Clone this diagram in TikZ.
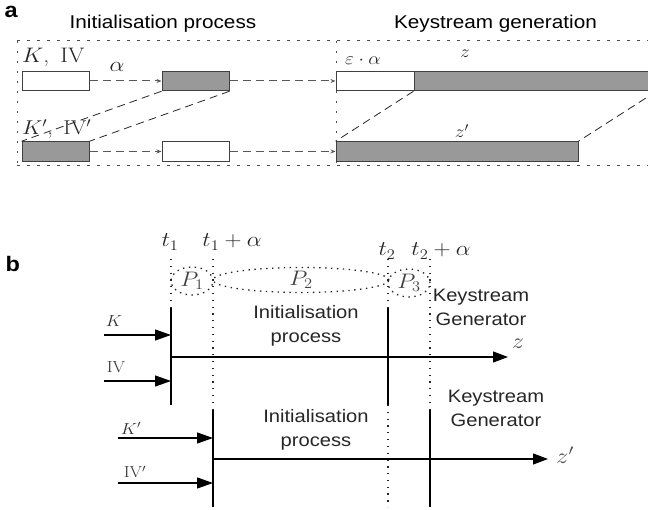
\RequirePackage{fix-cm}
\documentclass[tikz,border=0pt]{standalone}
\usepackage{fontspec}
\usepackage{graphicx}
\setsansfont{Liberation Sans}[FakeStretch=1.12]
\usetikzlibrary{shapes.geometric,arrows.meta}
% horizontally widened math / roman labels
\newcommand{\sx}[1]{\scalebox{1.12}[1]{#1}}
\definecolor{barfill}{gray}{0.6}
\begin{document}
\begin{tikzpicture}[x=1pt,y=-1pt,
  panel/.style={font=\sffamily\bfseries\fontsize{21}{24}\selectfont, inner sep=0, anchor=base west},
  title/.style={font=\sffamily\fontsize{18.5}{22}\selectfont, inner sep=0, anchor=base},
  txt/.style={font=\sffamily\fontsize{18}{24}\selectfont, align=center, inner sep=0, text=black!85},
  mlab/.style={font=\fontsize{17.5}{20}\selectfont, inner sep=0, text=black!85},
  blab/.style={font=\fontsize{21}{24}\selectfont, inner sep=0, text=black!85},
  slab/.style={font=\fontsize{16}{18}\selectfont, inner sep=0, text=black!80},
  frame/.style={black!70, line width=1pt, dash pattern=on 2.5pt off 7.5pt},
  bx/.style={draw=black!75, line width=1pt, minimum height=19.5pt, inner sep=0, minimum width=67pt},
  wbx/.style={bx, fill=white},
  gbx/.style={bx, fill=barfill},
  flow/.style={black!65, line width=1pt, dash pattern=on 8pt off 5pt, -{Stealth[length=5pt,width=4pt]}},
  diag/.style={black!85, line width=0.8pt, dash pattern=on 8pt off 5pt},
  tdot/.style={black!85, line width=1.3pt, dash pattern=on 1.3pt off 5.5pt},
  tline/.style={black, line width=1.2pt},
  inarrow/.style={black, line width=1.2pt, -{Triangle[length=16pt,width=11pt]}},
  outarrow/.style={black, line width=1.2pt, -{Triangle[length=15pt,width=11pt]}},
  phase/.style={ellipse, draw=black!85, line width=1.3pt, dash pattern=on 1.4pt off 4.5pt, inner sep=0, font=\fontsize{21}{24}\selectfont, text=black!75}
]
\useasboundingbox (0,0) rectangle (648,510);

% ---------------- panel a ----------------
\node[panel] (pa) at (4.5,17.5) {a};
\node[title] (ta) at (163,29) {Initialisation process};
\node[title] (tg) at (495.5,29) {Keystream generation};

\begin{scope}
\clip (0,0) rectangle (648,200);
% dotted frame
\draw[frame] (17,41) -- (660,41);
\draw[frame] (17,166) -- (660,166);
\draw[frame] (17,41) -- (17,166);
\draw[frame] (336,41) -- (336,166);

% initialisation registers
\node[wbx] (k1) at (55.5,81) {};
\node[gbx] (k2) at (195.5,81) {};
\node[gbx] (k3) at (55.5,151.5) {};
\node[wbx] (k4) at (195.5,151.5) {};

% keystream bars
\node[wbx, minimum width=78pt] (z1w) at (375,81) {};
\node[gbx, minimum width=242pt] (z1g) at (535,81) {};
\node[gbx, minimum width=242pt] (z2g) at (457,151.5) {};

% flow of states
\draw[flow] (k1.east) -- (k2.west);
\draw[flow] (k2.east) -- (z1w.west);
\draw[flow] (k3.east) -- (k4.west);
\draw[flow] (k4.east) -- (z2g.west);

% shifted correspondences
\draw[diag] (k2.south west) -- (k3.north west);
\draw[diag] (k2.south east) -- (k3.north east);
\draw[diag] (z1g.south west) -- (z2g.north west);
\draw[diag] (z1g.south east) -- (z2g.north east);
\end{scope}

\node[blab, anchor=west] (lk) at (22,57) {\sx{$K$,\, IV}};
\node[blab] (la) at (117,67) {\sx{$\alpha$}};
\node[blab, font=\fontsize{20}{22}\selectfont, anchor=west] (lk2) at (22,129) {\sx{$K'$,\, IV$'$}};
\node[mlab, anchor=west] (le) at (345,61) {\sx{$\varepsilon\cdot\alpha$}};
\node[mlab] (lz) at (465,54) {\sx{$z$}};
\node[mlab] (lz2) at (462,131) {\sx{$z'$}};

% ---------------- panel b ----------------
\node[panel] (pb) at (5.5,272) {b};

\node[blab] (t1) at (170,242) {\sx{$t_1$}};
\node[blab] (t1a) at (232,242) {\sx{$t_1+\alpha$}};
\node[blab] (t2) at (387,251) {\sx{$t_2$}};
\node[blab] (t2a) at (441,251) {\sx{$t_2+\alpha$}};

% time marks
\coordinate (a1) at (171,259);  \coordinate (a2) at (171,308);  \coordinate (a3) at (171,405);
\coordinate (b1) at (213,259);  \coordinate (b2) at (213,410);  \coordinate (b3) at (213,507);
\coordinate (c1) at (388,259);  \coordinate (c2) at (388,308);  \coordinate (c3) at (388,405);  \coordinate (c4) at (388,507);
\coordinate (d1) at (430,259);  \coordinate (d2) at (430,410);  \coordinate (d3) at (430,507);

\draw[tdot] (a1) -- (a2);
\draw[tline] (a2) -- (a3);
\draw[tdot] (b1) -- (b2);
\draw[tline] (b2) -- (b3);
\draw[tdot] (c1) -- (c2);
\draw[tline] (c2) -- (c3);
\draw[tdot] (c3) -- (c4);
\draw[tdot] (d1) -- (d2);
\draw[tline] (d2) -- (d3);

% phases
\node[phase, minimum width=42pt, minimum height=28pt] (p1) at (192,281) {\sx{$P_1$}};
\node[phase, minimum width=176pt, minimum height=25pt] (p2) at (301,280) {\sx{$P_2$}};
\node[phase, minimum width=42pt, minimum height=28pt] (p3) at (409,283) {\sx{$P_3$}};

% first key / IV pair
\node[slab] (k) at (114,321) {\sx{$K$}};
\node[slab] (iv) at (116,367) {\sx{IV}};
\coordinate (kin) at (104,335);   \coordinate (kend) at (171,335);
\coordinate (ivin) at (104,381);  \coordinate (ivend) at (171,381);
\draw[inarrow] (kin) -- (kend);
\draw[inarrow] (ivin) -- (ivend);
\coordinate (zs) at (171,357);    \coordinate (ze) at (508,357);
\draw[outarrow] (zs) -- (ze);
\node[font=\fontsize{22}{24}\selectfont, inner sep=0, text=black!70] (z) at (518,344) {\sx{$z$}};

\node[txt] (ip1) at (306,326) {Initialisation\\process};
\node[txt] (kg1) at (481,307) {Keystream\\Generator};

% second key / IV pair
\node[slab] (k2l) at (131,428) {\sx{$K'$}};
\node[slab] (iv2l) at (135,472) {\sx{IV$'$}};
\coordinate (k2in) at (118,438);   \coordinate (k2end) at (213,438);
\coordinate (iv2in) at (118,483);  \coordinate (iv2end) at (213,483);
\draw[inarrow] (k2in) -- (k2end);
\draw[inarrow] (iv2in) -- (iv2end);
\coordinate (z2s) at (213,459);    \coordinate (z2e) at (548,459);
\draw[outarrow] (z2s) -- (z2e);
\node[font=\fontsize{22}{24}\selectfont, inner sep=0, text=black!70] (zp) at (565,455) {\sx{$z'$}};

\node[txt] (ip2) at (316,430) {Initialisation\\process};
\node[txt] (kg2) at (496,408) {Keystream\\Generator};
\end{tikzpicture}
\end{document}
